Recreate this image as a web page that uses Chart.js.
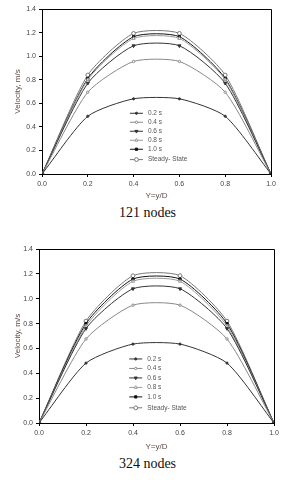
<!DOCTYPE html>
<html>
<head>
<meta charset="utf-8">
<script src="https://cdn.jsdelivr.net/npm/chart.js@4"></script>
<style>
  body { margin: 0; background: #fff; width: 291px; height: 480px; position: relative; overflow: hidden; }
  .box { position: absolute; left: 0; }
  .cap { position: absolute; left: 2px; width: 291px; text-align: center;
         font-family: "Liberation Serif", "DejaVu Serif", serif; font-size: 14px; line-height: 18px; color: #111; }
</style>
</head>
<body>
<div class="box" style="top:0"><canvas id="chart121" width="291" height="201"></canvas></div>
<div class="cap" style="top:204px">121 nodes</div>
<div class="box" style="top:240px"><canvas id="chart324" width="291" height="212"></canvas></div>
<div class="cap" style="top:455px">324 nodes</div>

<script>
// Dimensionless position across the duct
const positions = [0.0, 0.2, 0.4, 0.6, 0.8, 1.0];
const seriesNames = ["0.2 s", "0.4 s", "0.6 s", "0.8 s", "1.0 s", "Steady- State"];
const xTicks = [0.0, 0.2, 0.4, 0.6, 0.8, 1.0];
const yTicks = [0.0, 0.2, 0.4, 0.6, 0.8, 1.0, 1.2, 1.4];

// 121 nodes (velocity, m/s)
const v121_02 = [0, 0.49, 0.638, 0.638, 0.49, 0];
const v121_04 = [0, 0.694, 0.955, 0.955, 0.694, 0];
const v121_06 = [0, 0.77, 1.088, 1.088, 0.77, 0];
const v121_08 = [0, 0.80, 1.15, 1.15, 0.80, 0];
const v121_10 = [0, 0.81, 1.165, 1.165, 0.81, 0];
const v121_ss = [0, 0.84, 1.193, 1.193, 0.84, 0];

// 324 nodes (velocity, m/s)
const v324_02 = [0, 0.482, 0.635, 0.635, 0.482, 0];
const v324_04 = [0, 0.676, 0.948, 0.948, 0.676, 0];
const v324_06 = [0, 0.76, 1.08, 1.08, 0.76, 0];
const v324_08 = [0, 0.78, 1.14, 1.14, 0.78, 0];
const v324_10 = [0, 0.80, 1.158, 1.158, 0.80, 0];
const v324_ss = [0, 0.82, 1.185, 1.185, 0.82, 0];

// marker look for each series
const looks = [
  { color: "#333", style: "circle", radius: 1.1, fill: "#333", rotation: 0 },
  { color: "#888", style: "circle", radius: 1.2, fill: "#fff", rotation: 0 },
  { color: "#333", style: "triangle", radius: 1.8, fill: "#333", rotation: 180 },
  { color: "#999", style: "triangle", radius: 1.8, fill: "#fff", rotation: 0 },
  { color: "#111", style: "rect", radius: 1.6, fill: "#111", rotation: 0 },
  { color: "#777", style: "circle", radius: 1.9, fill: "#fff", rotation: 0 }
];

const fontFam = '"Liberation Sans", Arial, sans-serif';

// box around plot + legend inside the plot
const framePlugin = {
  id: "frame",
  afterDatasetsDraw(chart) {
    const a = chart.chartArea;
    const ctx = chart.ctx;
    ctx.save();
    ctx.strokeStyle = "#000";
    ctx.lineWidth = 1;
    ctx.beginPath();
    ctx.moveTo(Math.round(a.left) + 0.5, Math.round(a.top) + 0.5);
    ctx.lineTo(Math.round(a.right) + 0.5, Math.round(a.top) + 0.5);
    ctx.lineTo(Math.round(a.right) + 0.5, Math.round(a.bottom) + 0.5);
    ctx.stroke();

    // legend
    const w = a.right - a.left, h = a.bottom - a.top;
    const x0 = a.left + w * 0.384;
    let y = a.top + h * 0.632;
    const step = h * 0.0545;
    ctx.font = "6.5px " + fontFam;
    ctx.textBaseline = "middle";
    chart.data.datasets.forEach((ds, i) => {
      const yy = i === 5 ? y + step * 0.15 : y;
      ctx.strokeStyle = ds.borderColor;
      ctx.lineWidth = 1;
      ctx.beginPath();
      ctx.moveTo(x0, yy);
      ctx.lineTo(x0 + 13, yy);
      ctx.stroke();
      ctx.fillStyle = ds.pointBackgroundColor;
      ctx.strokeStyle = ds.pointBorderColor;
      Chart.helpers.drawPoint(ctx, {
        pointStyle: ds.pointStyle, rotation: ds.pointRotation,
        radius: ds.pointRadius, borderWidth: 1
      }, x0 + 6.5, yy);
      ctx.fillStyle = "#555";
      ctx.fillText(ds.label, x0 + 18, yy);
      y += step;
    });
    ctx.restore();
  }
};

function makeChart(id, series, yAxisWidth, padRight, xAxisHeight, yTitlePad) {
  const datasets = series.map((vals, i) => ({
    label: seriesNames[i],
    data: positions.map((p, k) => ({ x: p, y: vals[k] })),
    borderColor: looks[i].color,
    borderWidth: 1,
    tension: 0.22,
    pointStyle: looks[i].style,
    pointRotation: looks[i].rotation,
    pointRadius: looks[i].radius,
    pointBackgroundColor: looks[i].fill,
    pointBorderColor: looks[i].color,
    pointBorderWidth: 1
  }));

  new Chart(document.getElementById(id).getContext("2d"), {
    type: "line",
    data: { datasets: datasets },
    options: {
      responsive: false,
      animation: false,
      layout: { padding: { top: 9, right: padRight, left: 0, bottom: 0 } },
      plugins: { legend: { display: false }, tooltip: { enabled: false } },
      scales: {
        x: {
          type: "linear", min: 0, max: 1,
          afterBuildTicks: s => { s.ticks = xTicks.map(v => ({ value: v })); },
          afterFit: s => { s.height = xAxisHeight; },
          grid: { drawOnChartArea: false, tickLength: 3, color: "#000" },
          border: { color: "#000" },
          ticks: { padding: 3, color: "#444", font: { size: 7, family: fontFam },
                   callback: v => v.toFixed(1), maxRotation: 0 },
          title: { display: true, text: "Y=y/D", color: "#5a4a44",
                   font: { size: 8, family: fontFam }, padding: { top: 0, bottom: 0 } }
        },
        y: {
          min: 0, max: 1.4,
          afterBuildTicks: s => { s.ticks = yTicks.map(v => ({ value: v })); },
          afterFit: s => { s.width = yAxisWidth; },
          grid: { drawOnChartArea: false, tickLength: 3, color: "#000" },
          border: { color: "#000" },
          ticks: { padding: 3, color: "#444", font: { size: 7, family: fontFam },
                   callback: v => v.toFixed(1) },
          title: { display: true, text: "Velocity, m/s", color: "#5a4a44",
                   font: { size: 8, family: fontFam }, padding: { top: 12.5, bottom: 0 } }
        }
      }
    },
    plugins: [framePlugin]
  });
}

makeChart("chart121", [v121_02, v121_04, v121_06, v121_08, v121_10, v121_ss], 42, 20, 27, 12.5);
makeChart("chart324", [v324_02, v324_04, v324_06, v324_08, v324_10, v324_ss], 39, 17, 29, 12.2);
</script>
</body>
</html>
